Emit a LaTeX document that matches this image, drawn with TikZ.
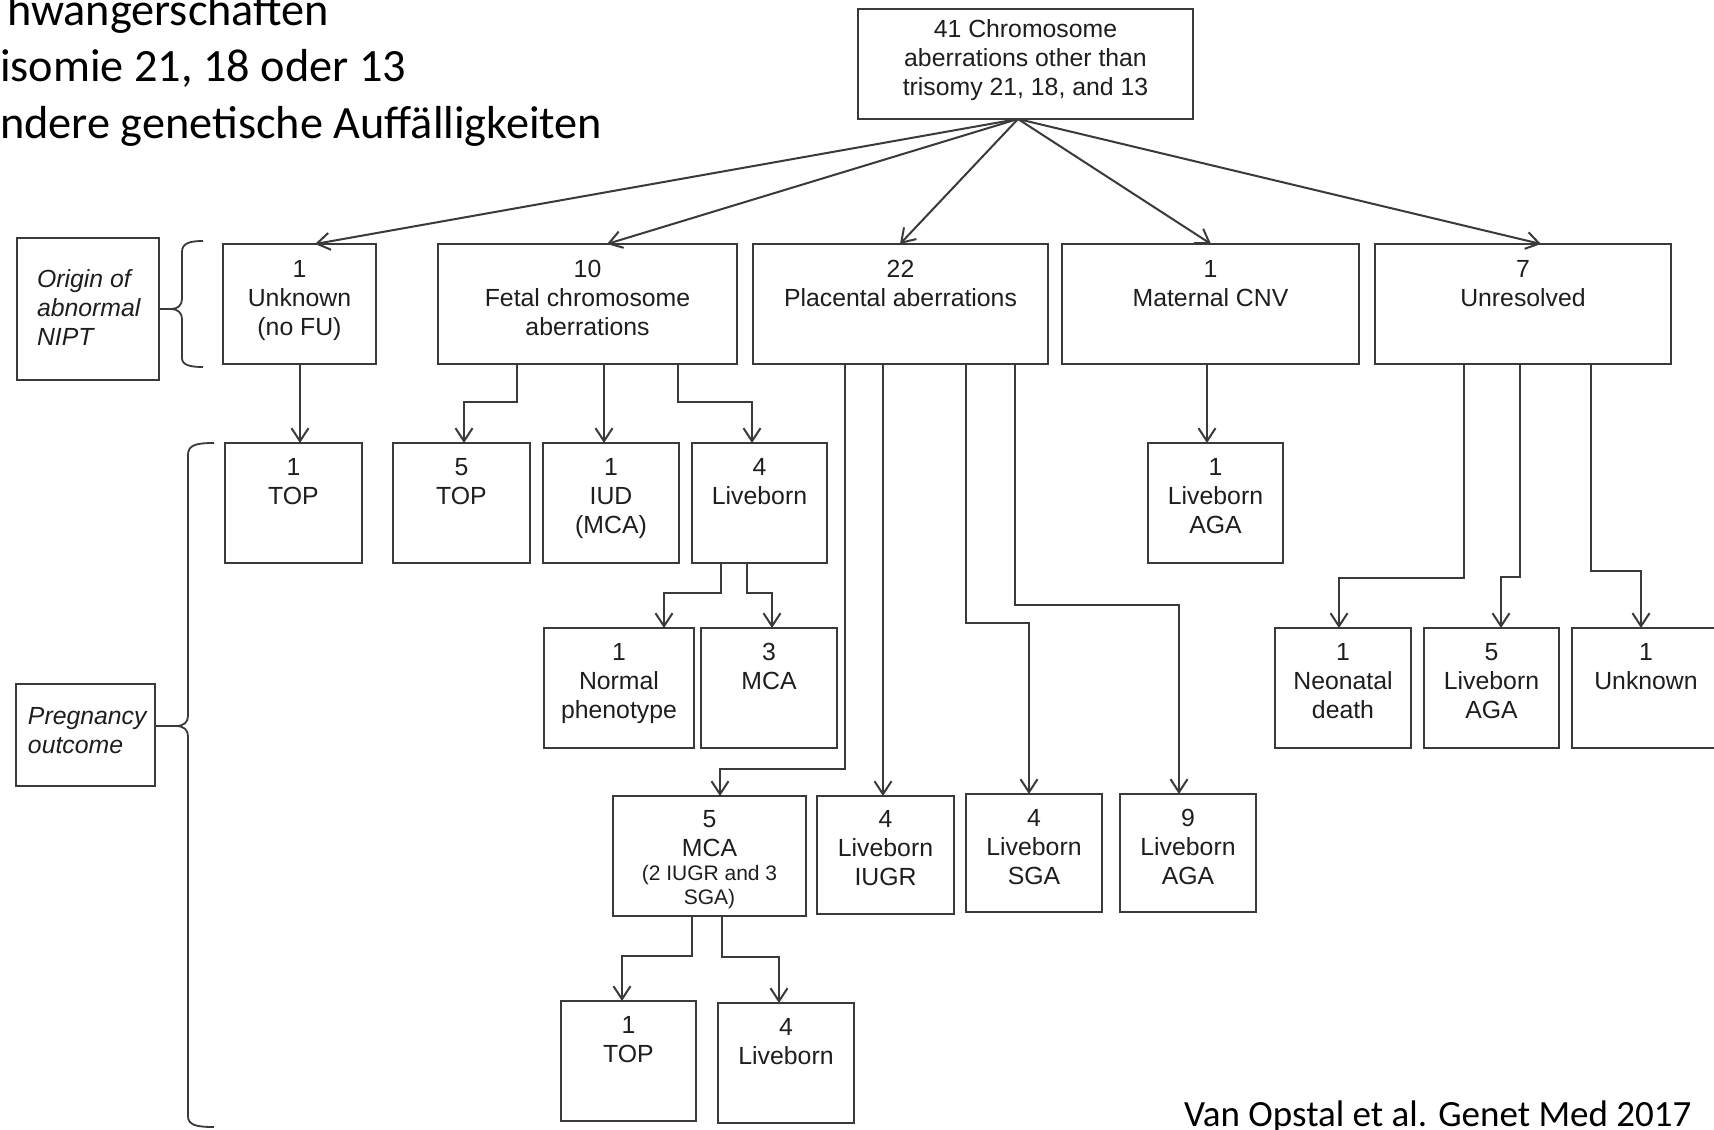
\documentclass[tikz,border=0pt]{standalone}
\usepackage{fontspec}
\setmainfont{Liberation Sans}
\newfontfamily\slidefont{Carlito}
\usetikzlibrary{arrows.meta}
\definecolor{linec}{HTML}{3A3A3A}
\definecolor{txtc}{HTML}{1E1E1E}
% centred box text, first baseline #3 below the top
\newcommand{\bt}[4]{\begin{minipage}[c][#2][t]{#1}\centering\rule{0pt}{#3}#4\par\end{minipage}}
% left-aligned label text
\newcommand{\lt}[5]{\begin{minipage}[c][#2][t]{#1}\raggedright\leftskip=#4\rule{0pt}{#3}#5\par\end{minipage}}
\begin{document}
\begin{tikzpicture}[x=1pt,y=-1pt,
  box/.style={draw=linec, line width=2pt, inner sep=0pt, outer sep=0pt, text=txtc,
              font=\fontsize{24.8}{29}\selectfont},
  arr/.style={draw=linec, line width=2pt, -{Straight Barb[length=13pt,width=17pt]}},
  bracepath/.style={draw=linec, line width=1.8pt},
  slidetext/.style={anchor=base west, inner sep=0pt, outer sep=0pt, text=black,
              font=\slidefont\fontsize{46.3}{55}\selectfont},
]
\useasboundingbox (0,0) rectangle (1714,1130);
\fill[white] (0,0) rectangle (1714,1130);

% slide text
\node[slidetext] (s1) at (7,25) {hwangerschaften};
\node[slidetext] (s2) at (0,81) {isomie 21, 18 oder 13};
\node[slidetext] (s3) at (0,138) {ndere genetische Auffälligkeiten};
\node[slidetext, font=\slidefont\fontsize{37}{44}\selectfont] (cite) at (1184,1126) {Van Opstal et al. Genet Med 2017};

% root
\node[box] (top) at (1025.5,64) {\bt{335pt}{110pt}{28.5pt}{41 Chromosome\\aberrations other than\\trisomy 21, 18, and 13}};

% row 1
\node[box] (u1)    at (299.5,304) {\bt{153pt}{120pt}{33pt}{1\\Unknown\\(no FU)}};
\node[box] (fetal) at (587.5,304) {\bt{299pt}{120pt}{33pt}{10\\Fetal chromosome\\aberrations}};
\node[box] (plac)  at (900.5,304) {\bt{295pt}{120pt}{33pt}{22\\Placental aberrations}};
\node[box] (mat)   at (1210.5,304) {\bt{297pt}{120pt}{33pt}{1\\Maternal CNV}};
\node[box] (unres) at (1523,304) {\bt{296pt}{120pt}{33pt}{7\\Unresolved}};

% labels
\node[box] (orig) at (88,309) {\lt{142pt}{142pt}{49pt}{20pt}{\itshape Origin of\\abnormal\\NIPT}};
\node[box] (preg) at (85.5,735) {\lt{139pt}{102pt}{40pt}{12pt}{\itshape Pregnancy\\outcome}};

% row 2
\node[box] (top1)   at (293.5,503) {\bt{137pt}{120pt}{32.5pt}{1\\TOP}};
\node[box] (top5)   at (461.5,503) {\bt{137pt}{120pt}{32.5pt}{5\\TOP}};
\node[box] (iud)    at (611,503)   {\bt{136pt}{120pt}{32.5pt}{1\\IUD\\(MCA)}};
\node[box] (lb4)    at (759.5,503) {\bt{135pt}{120pt}{32.5pt}{4\\Liveborn}};
\node[box] (lbaga1) at (1215.5,503) {\bt{135pt}{120pt}{32.5pt}{1\\Liveborn\\AGA}};

% row 3
\node[box] (norm)   at (619,688)    {\bt{150pt}{120pt}{32.5pt}{1\\Normal\\phenotype}};
\node[box] (mca3)   at (769,688)    {\bt{136pt}{120pt}{32.5pt}{3\\MCA}};
\node[box] (neo)    at (1343,688)   {\bt{136pt}{120pt}{32.5pt}{1\\Neonatal\\death}};
\node[box] (lbaga5) at (1491.5,688) {\bt{135pt}{120pt}{32.5pt}{5\\Liveborn\\AGA}};
\node[box] (unk2)   at (1646,688)   {\bt{148pt}{120pt}{32.5pt}{1\\Unknown}};

% row 4
\node[box] (mca5) at (709.5,856) {\bt{193pt}{120pt}{31pt}{5\\MCA\par\fontsize{21}{24}\selectfont (2 IUGR and 3\\SGA)}};
\node[box] (iugr) at (885.5,855) {\bt{137pt}{118pt}{31pt}{4\\Liveborn\\IUGR}};
\node[box] (sga)  at (1034,853)  {\bt{136pt}{118pt}{32pt}{4\\Liveborn\\SGA}};
\node[box] (aga9) at (1188,853)  {\bt{136pt}{118pt}{32pt}{9\\Liveborn\\AGA}};

% row 5
\node[box] (top1b) at (628.5,1061) {\bt{135pt}{120pt}{32pt}{1\\TOP}};
\node[box] (lb4b)  at (786,1063)   {\bt{136pt}{120pt}{32pt}{4\\Liveborn}};

% braces
\draw[bracepath] (203,241) .. controls (190,241) and (182,243) .. (182,252) -- (182,299)
  .. controls (182,305) and (178,309) .. (171,309)
  .. controls (178,309) and (182,313) .. (182,319) -- (182,358)
  .. controls (182,365) and (190,367) .. (203,367);
\draw[bracepath] (orig.east) -- (171,309);
\draw[bracepath] (214,443) .. controls (196,443) and (188,445) .. (188,455) -- (188,716)
  .. controls (188,722) and (184,726) .. (176,726)
  .. controls (184,726) and (188,730) .. (188,736) -- (188,1116)
  .. controls (188,1125) and (196,1127) .. (214,1127);
\draw[bracepath] (preg.east |- 0,726) -- (176,726);

% root arrows
\draw[arr] (top.south -| 1018,0) -- (u1.north -| 315,0);
\draw[arr] (top.south -| 1018,0) -- (fetal.north -| 607,0);
\draw[arr] (top.south -| 1018,0) -- (plac.north -| 900,0);
\draw[arr] (top.south -| 1018,0) -- (mat.north -| 1211,0);
\draw[arr] (top.south -| 1018,0) -- (unres.north -| 1541,0);

% row 1 -> row 2
\draw[arr] (u1.south -| 300,0) -- (top1.north -| 300,0);
\draw[arr] (fetal.south -| 517,0) |- (464,402) -- (top5.north -| 464,0);
\draw[arr] (fetal.south -| 604,0) -- (iud.north -| 604,0);
\draw[arr] (fetal.south -| 678,0) |- (752,402) -- (lb4.north -| 752,0);
\draw[arr] (mat.south -| 1207,0) -- (lbaga1.north -| 1207,0);

% liveborn -> row 3
\draw[arr] (lb4.south -| 721,0) |- (664,593) -- (norm.north -| 664,0);
\draw[arr] (lb4.south -| 747,0) |- (772,593) -- (mca3.north -| 772,0);

% placental -> row 4
\draw[arr] (plac.south -| 845,0) |- (720,769) -- (mca5.north -| 720,0);
\draw[arr] (plac.south -| 883,0) -- (iugr.north -| 883,0);
\draw[arr] (plac.south -| 966,0) |- (1029,623) -- (sga.north -| 1029,0);
\draw[arr] (plac.south -| 1015,0) |- (1179,605) -- (aga9.north -| 1179,0);

% unresolved -> row 3
\draw[arr] (unres.south -| 1464,0) |- (1339,578) -- (neo.north -| 1339,0);
\draw[arr] (unres.south -| 1520,0) |- (1501,577) -- (lbaga5.north -| 1501,0);
\draw[arr] (unres.south -| 1591,0) |- (1641,571) -- (unk2.north -| 1641,0);

% MCA5 -> row 5
\draw[arr] (mca5.south -| 692,0) |- (622,956) -- (top1b.north -| 622,0);
\draw[arr] (mca5.south -| 722,0) |- (779,957) -- (lb4b.north -| 779,0);
\end{tikzpicture}
\end{document}
